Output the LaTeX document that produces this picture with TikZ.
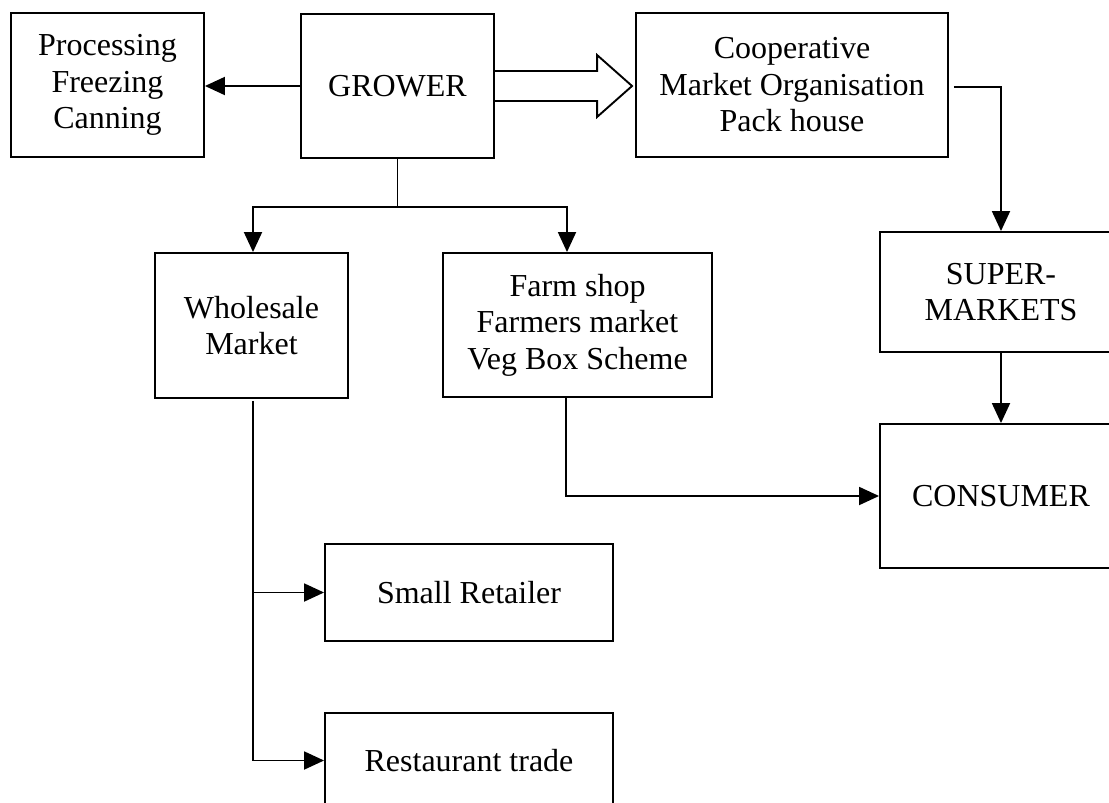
\documentclass[tikz,border=0pt]{standalone}
\usepackage{fontspec}
\setmainfont{Liberation Serif}
\usetikzlibrary{arrows.meta,calc}
\begin{document}
\begin{tikzpicture}[x=1pt,y=-1pt,
  box/.style={draw,line width=1.9pt,inner sep=0pt,align=center,font=\fontsize{32}{36.5}\selectfont},
  conn/.style={line width=1.9pt},
  arr/.style={conn,-{Triangle[length=20pt,width=18pt]}}]
\useasboundingbox (0,0) rectangle (1109,803);
\fill[white] (0,0) rectangle (1109,803);
\clip (0,0) rectangle (1109,803);
\node[box,minimum width=193pt,minimum height=144pt] (proc) at (107.5,85) {Processing\\Freezing\\Canning};
\node[box,minimum width=193pt,minimum height=144pt] (grower) at (397.5,86) {GROWER};
\node[box,minimum width=312pt,minimum height=144pt] (coop) at (792,85) {Cooperative\\Market Organisation\\Pack house};
\node[box,minimum width=242pt,minimum height=120pt] (super) at (1001,292) {SUPER-\\MARKETS};
\node[box,minimum width=193pt,minimum height=145pt] (whole) at (251.5,325.5) {Wholesale\\Market};
\node[box,minimum width=269pt,minimum height=144pt] (farm) at (577.5,325) {Farm shop\\Farmers market\\Veg Box Scheme};
\node[box,minimum width=242pt,minimum height=144pt] (cons) at (1001,496) {CONSUMER};
\node[box,minimum width=288pt,minimum height=97pt] (small) at (469,592.5) {Small Retailer};
\node[box,minimum width=288pt,minimum height=95pt] (rest) at (469,760.5) {Restaurant trade};
% grower -> processing
\draw[arr] (grower.west) -- (grower.west -| proc.east);
% hollow block arrow grower -> coop
\coordinate (tip) at ($(coop.west)+(-3,1)$);
\draw[conn,line join=miter] ($(grower.east)+(0,-15)$) -- ($(tip)+(-35,-15)$) -- ($(tip)+(-35,-31)$) -- (tip) -- ($(tip)+(-35,31)$) -- ($(tip)+(-35,15)$) -- ($(grower.east)+(0,15)$);
% grower down branch
\coordinate (gb) at ($(grower.south)+(0,48)$);
\draw[conn] (grower.south) -- (gb);
\draw[arr] (gb) -| ($(whole.north)+(1.5,0)$);
\draw[arr] (gb) -| ($(farm.north)+(-10.5,0)$);
% coop -> supermarkets
\draw[arr] ($(coop.east)+(5,2)$) -| (super.north);
% supermarkets -> consumer
\draw[arr] (super.south) -- (cons.north);
% farm shop -> consumer
\draw[arr] ($(farm.south)+(-11.5,0)$) |- (cons.west);
% wholesale -> small retailer, restaurant
\coordinate (wb) at ($(whole.south)+(1.5,2)$);
\draw[conn] (wb) -- (wb |- rest.west);
\draw[arr] (wb |- small.west) -- (small.west);
\draw[arr] (wb |- rest.west) -- (rest.west);
\end{tikzpicture}
\end{document}
